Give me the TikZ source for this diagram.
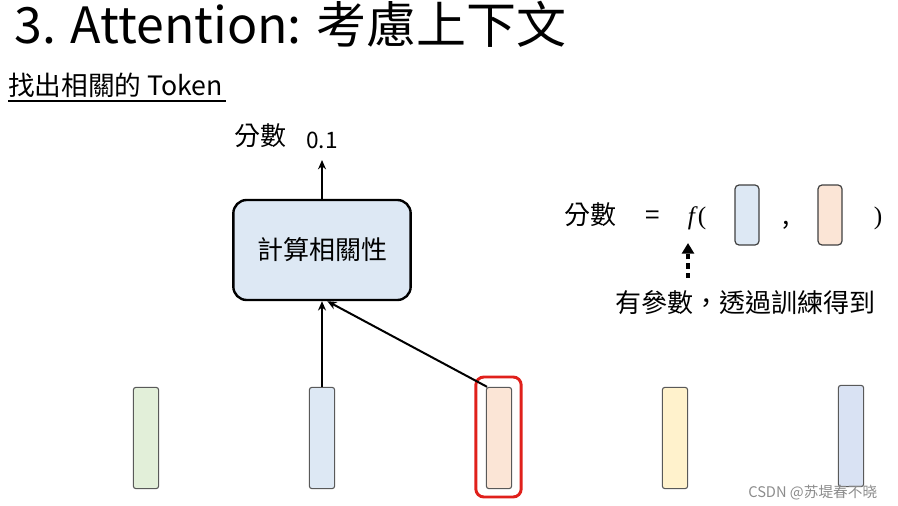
\documentclass[tikz,border=0pt]{standalone}
\usepackage{fontspec}
\setmainfont{Noto Sans CJK TC}
\newfontfamily\wmfont{Noto Sans CJK SC}
\newfontfamily\serif{Liberation Serif}
\usetikzlibrary{arrows.meta}
\definecolor{tgreen}{HTML}{E2EFD9}
\definecolor{tblue}{HTML}{DDE8F4}
\definecolor{tpeach}{HTML}{FBE5D6}
\definecolor{tyellow}{HTML}{FFF2CC}
\definecolor{tblue2}{HTML}{D9E2F3}
\definecolor{tred}{HTML}{E0201B}
\begin{document}
\begin{tikzpicture}[x=0.75pt,y=-0.75pt,
  tok/.style={draw=black!65,rounded corners=2pt,line width=0.8pt,minimum width=19pt,minimum height=76pt,inner sep=0pt},
  smalltok/.style={draw=black!75,rounded corners=3pt,line width=0.9pt,minimum width=18pt,minimum height=45pt,inner sep=0pt},
  arr/.style={-{Stealth[length=7pt,width=6pt]},line width=1.5pt},
  txt/.style={inner sep=0pt,anchor=base},
  big/.style={font=\fontsize{19.5}{19.5}\selectfont}]
\useasboundingbox (0,0) rectangle (898,506);
\node[txt,anchor=base west,font=\fontsize{37.5}{37.5}\selectfont] (title) at (14,44) {3. Attention: 考慮上下文};
\node[txt,anchor=base west,font=\fontsize{20}{20}\selectfont] (sub) at (8,96) {找出相關的 Token};
\draw[line width=0.8pt] (8,101) -- (226,101);
\node[draw=black,line width=1.8pt,fill=tblue,rounded corners=10pt,minimum width=133pt,minimum height=75pt,big] (box) at (322,250) {計算相關性};
\coordinate (out) at (322,160);
\draw[arr] (box.north) -- (out);
\node[txt,big] (fs) at (260,146) {分數};
\node[txt,font=\fontsize{17}{17}\selectfont] (v) at (322,148) {0.1};
\node[tok,fill=tgreen] (t1) at (146,438) {};
\node[tok,fill=tblue] (t2) at (322,438) {};
\node[tok,fill=tpeach] (t3) at (499,438) {};
\node[tok,fill=tyellow] (t4) at (675,438) {};
\node[tok,fill=tblue2] (t5) at (851,436) {};
\node[draw=tred,line width=2.2pt,rounded corners=6pt,minimum width=34pt,minimum height=90pt] (sel) at (498.5,437) {};
\draw[arr] (t2.north) -- (box.south);
\draw[arr] ([xshift=-9pt]t3.north) -- ([xshift=4pt]box.south);
\node[txt,big] (fs2) at (590,224) {分數};
\node[txt,big] (eq) at (653,224) {=};
\node[txt,font=\fontsize{19}{19}\selectfont] (f) at (697,224) {\serif\textit{f}(};
\node[smalltok,fill=tblue] (s1) at (747,215) {};
\node[txt,big] (cm) at (786,224) {,};
\node[smalltok,fill=tpeach] (s2) at (830,215) {};
\node[txt,font=\fontsize{19}{19}\selectfont] (rp) at (878,224) {\serif )};
\coordinate (da) at (688,278);
\draw[-{Triangle[length=8pt,width=9pt]},line width=3pt,dash pattern=on 4pt off 3pt] (da) -- (688,243);
\node[txt,big] (note) at (745,312) {有參數，透過訓練得到};
\node[txt,anchor=base west,text=black!45,font=\wmfont\fontsize{11}{11}\selectfont] (wm) at (748,497) {CSDN @苏堤春不晓};
\end{tikzpicture}
\end{document}
